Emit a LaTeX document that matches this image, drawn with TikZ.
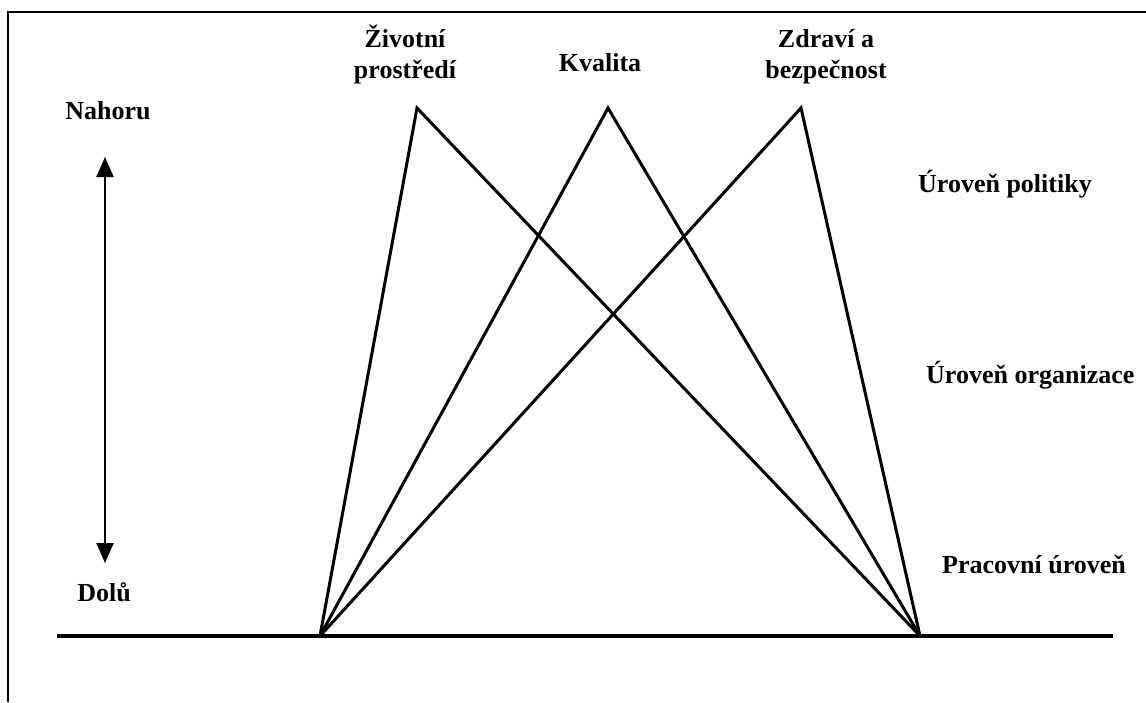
\documentclass[tikz,border=0pt]{standalone}
\usepackage{fontspec}
\setmainfont{Liberation Serif}
\usetikzlibrary{arrows.meta}
\tikzset{
  lbl/.style={font=\fontsize{26}{30}\selectfont\bfseries, inner sep=0pt, anchor=base},
  lblw/.style={lbl, anchor=base west},
  ray/.style={line width=3pt, line cap=round, line join=miter},
  frame/.style={line width=2pt},
  ground/.style={line width=3.5pt},
  dirarrow/.style={line width=2.2pt, {Triangle[width=17pt,length=20pt]}-{Triangle[width=17pt,length=20pt]}}
}
\begin{document}
\begin{tikzpicture}[x=1pt,y=-1pt]
\useasboundingbox (0,0) rectangle (1146,702);
% frame (open at right and bottom)
\coordinate (fbl) at (8,702);
\coordinate (ftl) at (8,12);
\coordinate (ftr) at (1146,12);
\draw[frame] (fbl) -- (ftl) -- (ftr);
% ground line
\coordinate (gl) at (57,636);
\coordinate (gr) at (1113,636);
\draw[ground] (gl) -- (gr);
% base points and peaks
\coordinate (bl) at (320,636);
\coordinate (br) at (920,636);
\coordinate (p1) at (417,108);
\coordinate (p2) at (608,108);
\coordinate (p3) at (801,108);
\draw[ray] (bl) -- (p1) -- (br);
\draw[ray] (bl) -- (p2) -- (br);
\draw[ray] (bl) -- (p3) -- (br);
% top labels
\node[lbl] (zp1) at (405,47) {Životní};
\node[lbl] (zp2) at (405,78) {prostředí};
\node[lbl] (kv) at (600,71) {Kvalita};
\node[lbl] (zb1) at (826,47) {Zdraví a};
\node[lbl] (zb2) at (826,78) {bezpečnost};
% up / down
\node[lbl] (up) at (108,119) {Nahoru};
\node[lbl] (down) at (104,601) {Dolů};
\coordinate (at) at (105,157);
\coordinate (ab) at (105,563);
\draw[dirarrow] (at) -- (ab);
% level labels
\node[lblw] (l1) at (918,192) {Úroveň politiky};
\node[lblw] (l2) at (926,383) {Úroveň organizace};
\node[lblw] (l3) at (942,573) {Pracovní úroveň};
\end{tikzpicture}
\end{document}
